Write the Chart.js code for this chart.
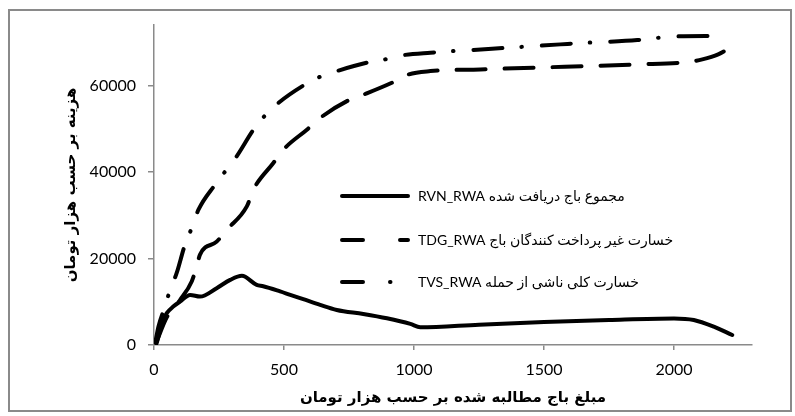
<!DOCTYPE html>
<html>
<head>
<meta charset="utf-8">
<script src="https://cdn.jsdelivr.net/npm/chart.js@4.4.1/dist/chart.umd.min.js"></script>
<style>
html, body { margin: 0; padding: 0; background: #fff; }
#wrap { position: relative; width: 795px; height: 416px; }
#chart_tax { position: absolute; left: 0; top: 0; }
</style>
</head>
<body>
<div id="wrap">
  <canvas id="chart_tax" width="795" height="416"></canvas>
</div>
<script>
// values (x: claimed tax, y: cost, thousand toman)
const rvnX = [10, 36, 49, 74, 100, 139, 177, 241, 293, 338, 395, 420, 485, 524, 574, 639, 703, 805, 896, 986, 1024, 1250, 1500, 1750, 2000, 2076, 2153, 2224];
const rvnY = [400, 5800, 7350, 8880, 10040, 11590, 11190, 13140, 15060, 15990, 13900, 13600, 12400, 11600, 10590, 9270, 8110, 7180, 6180, 4870, 4100, 4700, 5300, 5800, 6150, 5790, 4250, 2320];

const tdgX = [8, 50, 100, 145, 164, 177, 241, 280, 357, 382, 459, 498, 588, 639, 742, 806, 915, 979, 1063, 1255, 1500, 1671, 1859, 2051, 2109, 2170, 2224];
const tdgY = [460, 6500, 10400, 14700, 18150, 20900, 23900, 26650, 32050, 35900, 42100, 45200, 49800, 52500, 56400, 57900, 60650, 62570, 63340, 63730, 64200, 64500, 64890, 65420, 66050, 67200, 68990];

const tvsX = [5, 17, 42, 62, 87, 119, 145, 171, 235, 277, 318, 383, 427, 479, 575, 639, 703, 819, 889, 954, 1063, 1300, 1563, 1666, 1730, 1859, 1993, 2122, 2186];
const tvsY = [600, 4240, 8870, 12750, 16610, 23170, 27040, 31290, 37080, 40400, 43640, 49830, 53070, 56010, 60020, 62040, 63340, 65280, 66050, 66980, 67600, 68500, 69520, 69900, 70060, 70520, 71310, 71450, 71310];

const seriesCodes = ['RVN_RWA', 'TDG_RWA', 'TVS_RWA'];
const seriesNamesFa = ['مجموع باج دریافت شده', 'خسارت غیر پرداخت کنندگان باج', 'خسارت کلی ناشی از حمله'];

const xTicks = [0, 500, 1000, 1500, 2000];
const yTicks = [0, 20000, 40000, 60000];

const xTitle = 'مبلغ باج مطالبه شده بر حسب هزار تومان';
const yTitle = 'هزینه بر حسب هزار تومان';

const axisGray = '#8a8a8a';
const numFont = "Lato, 'DejaVu Sans'";

function toPoints(xs, ys) {
    return xs.map((x, i) => ({x: x, y: ys[i]}));
}

const lineDashes = [[], [29, 19], [29, 19, 0.5, 20]];
const legendDashes = [[], [21, 37], [21, 27, 0.5, 100]];

// chart frame + excel style legend inside the plot
const innerLegend = {
    id: 'innerLegend',
    afterDraw(chart) {
        const ctx = chart.ctx;
        ctx.save();
        ctx.fillStyle = axisGray;
        // frame as four thin filled bars
        ctx.fillRect(8, 9, 784, 2);
        ctx.fillRect(8, 410, 784, 2);
        ctx.fillRect(8, 9, 2, 403);
        ctx.fillRect(790, 9, 2, 403);
        const rowsY = [196, 240, 282];
        chart.data.datasets.forEach((ds, i) => {
            const y = rowsY[i];
            ctx.strokeStyle = '#000';
            ctx.lineWidth = 4;
            ctx.lineCap = 'round';
            ctx.setLineDash(legendDashes[i]);
            ctx.beginPath();
            ctx.moveTo(342, y);
            ctx.lineTo(408, y);
            ctx.stroke();
            ctx.setLineDash([]);
            ctx.direction = 'rtl';
            ctx.textAlign = 'left';
            ctx.textBaseline = 'middle';
            ctx.font = "14px " + numFont;
            ctx.fillStyle = '#000';
            ctx.fillText(ds.label, 418, y);
        });
        ctx.restore();
    }
};

function makeSet(i, xs, ys) {
    return {
        label: seriesNamesFa[i] + ' ' + seriesCodes[i],
        data: toPoints(xs, ys),
        borderColor: '#000',
        backgroundColor: '#000',
        borderWidth: 4,
        borderDash: lineDashes[i],
        borderCapStyle: 'round',
        borderJoinStyle: 'round',
        cubicInterpolationMode: 'monotone',
        pointRadius: 0,
        fill: false
    };
}

new Chart(document.getElementById('chart_tax'), {
    type: 'line',
    data: {
        datasets: [
            makeSet(0, rvnX, rvnY),
            makeSet(1, tdgX, tdgY),
            makeSet(2, tvsX, tvsY)
        ]
    },
    options: {
        responsive: false,
        animation: false,
        devicePixelRatio: 1,
        layout: {padding: {left: 0, right: 43, top: 25, bottom: 0}},
        plugins: {
            legend: {display: false},
            tooltip: {enabled: false}
        },
        scales: {
            x: {
                type: 'linear',
                min: 0,
                max: 2300,
                afterBuildTicks: (axis) => { axis.ticks = xTicks.map(v => ({value: v})); },
                afterFit: (axis) => { axis.height = 71; },
                grid: {drawOnChartArea: false, drawTicks: true, tickLength: 5, color: axisGray, lineWidth: 1.5},
                border: {display: true, color: axisGray, width: 1.5},
                ticks: {color: '#000', padding: 10, maxRotation: 0, font: {family: numFont, size: 16},
                        callback: (v) => String(v)},
                title: {
                    display: true,
                    text: xTitle,
                    color: '#000',
                    padding: {top: 0, bottom: 9},
                    font: {family: "'DejaVu Sans'", size: 15, weight: 'bold'}
                }
            },
            y: {
                min: 0,
                max: 74000,
                afterBuildTicks: (axis) => { axis.ticks = yTicks.map(v => ({value: v})); },
                afterFit: (axis) => { axis.width = 154; },
                grid: {drawOnChartArea: false, drawTicks: true, tickLength: 6, color: axisGray, lineWidth: 1.5},
                border: {display: true, color: axisGray, width: 1.5},
                ticks: {color: '#000', padding: 12, font: {family: numFont, size: 16},
                        callback: (v) => String(v)},
                title: {
                    display: true,
                    text: yTitle,
                    color: '#000',
                    padding: {top: 62, bottom: 0},
                    font: {family: "'DejaVu Sans'", size: 15, weight: 'bold'}
                }
            }
        }
    },
    plugins: [innerLegend]
});
</script>
</body>
</html>
